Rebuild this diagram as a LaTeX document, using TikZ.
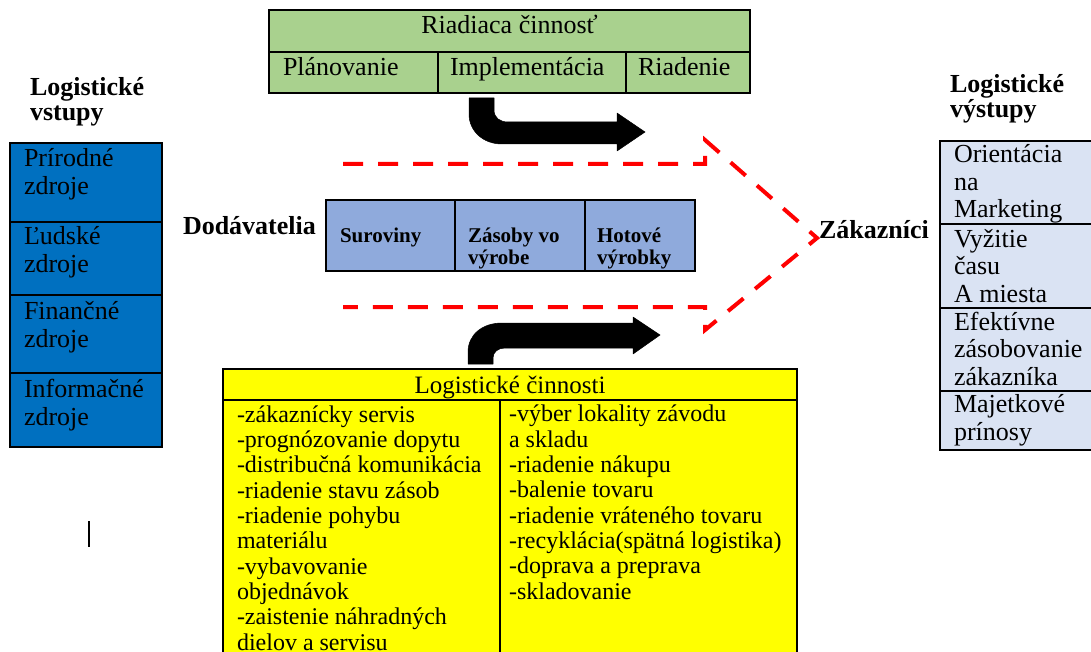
\documentclass[tikz,border=0pt]{standalone}
\usepackage{fontspec}
\setmainfont{Liberation Serif}
\definecolor{riadgreen}{HTML}{A9D18E}
\definecolor{vstupblue}{HTML}{0070C0}
\definecolor{tokblue}{HTML}{8FAADC}
\definecolor{vystupblue}{HTML}{DAE3F3}
\definecolor{cinyellow}{HTML}{FFFF00}
\definecolor{flowred}{HTML}{FF0000}
\newcommand\fsz[2]{\fontsize{#1}{#2}\selectfont}
\begin{document}
% multi-line text nodes are placed at the baseline of their last line
\begin{tikzpicture}[x=1pt,y=-1pt,
  cell/.style={draw=black,line width=1.3pt},
  txt/.style={anchor=base west,inner sep=0pt,outer sep=0pt,align=left},
  reg/.style={font=\fsz{26}{28}},
  bold/.style={font=\bfseries\fsz{26}{25}},
  small/.style={font=\bfseries\fsz{21}{21.7}},
  list/.style={font=\fsz{24}{25.3}},
  bigarrow/.style={fill=black,draw=black,line width=0.5pt,line join=round},
  flow/.style={draw=flowred,line width=4pt,dash pattern=on 20pt off 15pt}]
\useasboundingbox (0,0) rectangle (1091,652);

% management block
\filldraw[cell,fill=riadgreen] (269,10) rectangle (750,93);
\draw[cell] (269,52) -- (750,52);
\draw[cell] (438,52) -- (438,93);
\draw[cell] (626,52) -- (626,93);
\node[txt,reg,anchor=base] (riad) at (509.5,34) {Riadiaca činnosť};
\node[txt,reg] (plan) at (283,76) {Plánovanie};
\node[txt,reg] (impl) at (450,76) {Implementácia};
\node[txt,reg] (riaden) at (638,76) {Riadenie};

% bent arrows
\path[bigarrow] (469,98) -- (469,114) .. controls (469,131) and (483,144) .. (502,144)
  -- (617,144) -- (617,151) -- (645,132) -- (617,113) -- (617,122) -- (508,122)
  .. controls (500,122) and (494,118) .. (494,110) -- (494,98) -- cycle;
\path[bigarrow] (468,364) -- (468,352) .. controls (468,335) and (482,323) .. (502,323)
  -- (633,323) -- (633,317) -- (660,335) -- (633,354) -- (633,348) -- (505,348)
  .. controls (498,348) and (493,352) .. (493,358) -- (493,364) -- cycle;

% dashed flow outline
\draw[flow] (343,164) -- (705,164) -- (705,140) -- (817,238) -- (705,330) -- (705,307) -- (343,307);

% inputs
\node[txt,bold] (vstupy) at (30,121) {Logistické\\vstupy};
\filldraw[cell,fill=vstupblue] (10,143) rectangle (162,447);
\draw[cell] (10,222) -- (162,222);
\draw[cell] (10,295) -- (162,295);
\draw[cell] (10,373) -- (162,373);
\node[txt,reg] (prir) at (24,195) {Prírodné\\zdroje};
\node[txt,reg] (ludsk) at (24,272) {Ľudské\\zdroje};
\node[txt,reg] (finan) at (24,347) {Finančné\\zdroje};
\node[txt,reg] (infor) at (24,425) {Informačné\\zdroje};
\draw[line width=1.8pt] (89,521) -- (89,547);

% material flow
\node[txt,bold] (dodav) at (183,235) {Dodávatelia};
\filldraw[cell,fill=tokblue] (326,200) rectangle (695,271);
\draw[cell] (455,200) -- (455,271);
\draw[cell] (585,200) -- (585,271);
\node[txt,small] (surov) at (340,242) {Suroviny};
\node[txt,small] (zasob) at (468,264) {Zásoby vo\\výrobe};
\node[txt,small] (hotov) at (597,264) {Hotové\\výrobky};
\node[txt,bold] (zakaz) at (819,238) {Zákazníci};

% outputs
\node[txt,bold] (vystupy) at (950,118) {Logistické\\výstupy};
\filldraw[cell,fill=vystupblue] (940,141) rectangle (1100,450);
\draw[cell] (940,224) -- (1100,224);
\draw[cell] (940,308) -- (1100,308);
\draw[cell] (940,391) -- (1100,391);
\node[txt,font=\fsz{26}{27.5}] (orien) at (954,218) {Orientácia\\na\\Marketing};
\node[txt,font=\fsz{26}{27.5}] (vyzit) at (954,302) {Vyžitie\\času\\A miesta};
\node[txt,font=\fsz{26}{27.5}] (efekt) at (954,385) {Efektívne\\zásobovanie\\zákazníka};
\node[txt,font=\fsz{26}{27.5}] (majet) at (954,440) {Majetkové\\prínosy};

% logistic activities
\filldraw[cell,fill=cinyellow] (223,369) rectangle (797,665);
\draw[cell] (223,400) -- (797,400);
\draw[cell] (500,400) -- (500,665);
\node[txt,font=\fsz{25}{26},anchor=base] (cinn) at (510,393) {Logistické činnosti};
\node[txt,list] (cinl) at (237,650) {-zákaznícky servis\\-prognózovanie dopytu\\-distribučná komunikácia\\-riadenie stavu zásob\\-riadenie pohybu\\materiálu\\-vybavovanie\\objednávok\\-zaistenie náhradných\\dielov a servisu};
\node[txt,list] (cinr) at (509,599) {-výber lokality závodu\\a skladu\\-riadenie nákupu\\-balenie tovaru\\-riadenie vráteného tovaru\\-recyklácia(spätná logistika)\\-doprava a preprava\\-skladovanie};
\end{tikzpicture}
\end{document}
